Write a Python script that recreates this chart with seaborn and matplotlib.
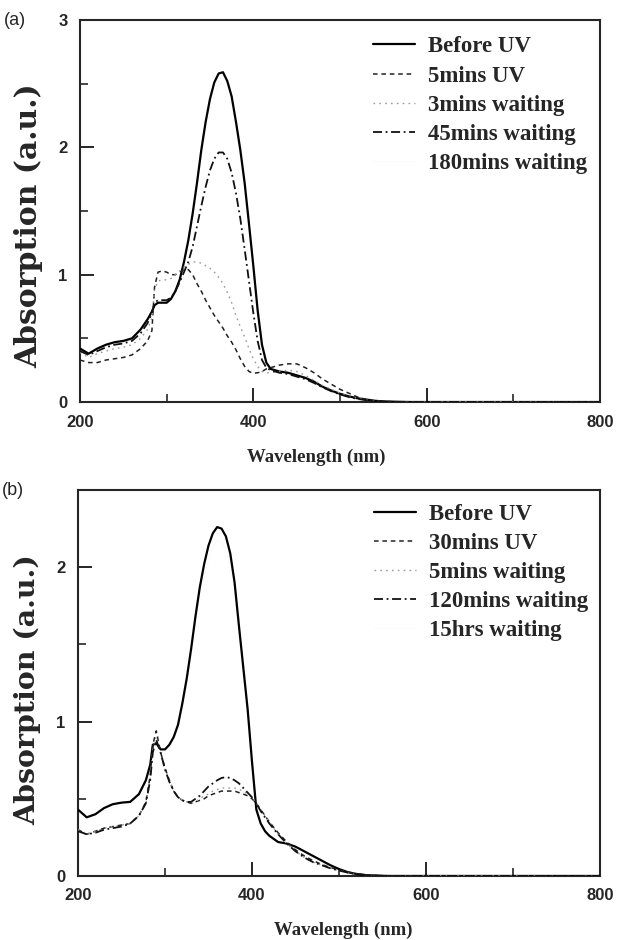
import matplotlib
matplotlib.use('Agg')
import matplotlib.pyplot as plt
from matplotlib.ticker import MultipleLocator
import seaborn as sns

# Wavelength grid (nm), shared by both panels
wavelength = [200, 210, 220, 230, 240, 250, 260, 270, 278, 283, 286, 290, 295, 300,
              305, 310, 315, 320, 325, 330, 335, 340, 345, 350, 355, 360, 365, 370,
              375, 380, 385, 390, 395, 400, 405, 410, 415, 420, 430, 440, 450, 460,
              470, 480, 490, 500, 510, 520, 530, 540, 550, 560, 580, 600, 650, 700,
              750, 800]

# Panel (a)
a_before_uv = [0.42, 0.38, 0.42, 0.45, 0.47, 0.48, 0.50, 0.57, 0.65, 0.71, 0.76, 0.78, 0.78, 0.78,
               0.81, 0.87, 0.96, 1.10, 1.27, 1.48, 1.72, 1.98, 2.20, 2.38, 2.51, 2.58, 2.59, 2.52,
               2.40, 2.20, 1.98, 1.72, 1.40, 1.07, 0.72, 0.45, 0.31, 0.26, 0.24, 0.23, 0.21, 0.19,
               0.16, 0.12, 0.09, 0.065, 0.045, 0.03, 0.02, 0.01, 0.005, 0.003, 0, 0, 0, 0, 0, 0]
a_5min_uv = [0.33, 0.31, 0.31, 0.33, 0.34, 0.35, 0.37, 0.42, 0.48, 0.56, 0.90, 1.02, 1.03, 1.02,
             1.00, 1.00, 1.02, 1.04, 1.04, 1.00, 0.93, 0.87, 0.80, 0.74, 0.68, 0.63, 0.58, 0.52,
             0.47, 0.41, 0.34, 0.28, 0.24, 0.225, 0.23, 0.24, 0.26, 0.27, 0.29, 0.30, 0.30, 0.27,
             0.23, 0.18, 0.14, 0.10, 0.07, 0.04, 0.02, 0.01, 0.005, 0.003, 0, 0, 0, 0, 0, 0]
a_3min_wait = [0.39, 0.35, 0.38, 0.40, 0.42, 0.43, 0.45, 0.50, 0.57, 0.66, 0.88, 0.95, 0.96, 0.96,
               0.97, 1.00, 1.03, 1.06, 1.08, 1.10, 1.10, 1.09, 1.07, 1.05, 1.02, 0.98, 0.93, 0.86,
               0.78, 0.68, 0.59, 0.51, 0.42, 0.34, 0.28, 0.24, 0.23, 0.23, 0.24, 0.25, 0.24, 0.21,
               0.17, 0.13, 0.10, 0.07, 0.045, 0.03, 0.02, 0.01, 0.004, 0, 0, 0, 0, 0, 0, 0]
a_45min_wait = [0.40, 0.37, 0.40, 0.43, 0.45, 0.46, 0.48, 0.54, 0.62, 0.70, 0.78, 0.80, 0.80, 0.80,
                0.82, 0.87, 0.94, 1.02, 1.10, 1.22, 1.38, 1.54, 1.69, 1.82, 1.91, 1.96, 1.96, 1.91,
                1.80, 1.64, 1.44, 1.20, 0.95, 0.70, 0.48, 0.33, 0.27, 0.25, 0.23, 0.22, 0.20, 0.18,
                0.15, 0.115, 0.085, 0.06, 0.04, 0.025, 0.015, 0.008, 0.004, 0, 0, 0, 0, 0, 0, 0]
a_180min_wait = [0.41, 0.37, 0.41, 0.44, 0.46, 0.47, 0.49, 0.56, 0.64, 0.70, 0.75, 0.77, 0.77, 0.77,
                 0.80, 0.86, 0.95, 1.08, 1.24, 1.44, 1.67, 1.92, 2.13, 2.30, 2.42, 2.49, 2.50, 2.44,
                 2.32, 2.13, 1.92, 1.67, 1.36, 1.04, 0.70, 0.44, 0.31, 0.26, 0.24, 0.23, 0.21, 0.19,
                 0.16, 0.12, 0.09, 0.065, 0.045, 0.03, 0.02, 0.01, 0.005, 0.003, 0, 0, 0, 0, 0, 0]

# Panel (b)
b_before_uv = [0.43, 0.38, 0.40, 0.44, 0.465, 0.475, 0.48, 0.53, 0.62, 0.72, 0.85, 0.86, 0.82, 0.82,
               0.85, 0.90, 0.98, 1.12, 1.28, 1.47, 1.68, 1.87, 2.02, 2.14, 2.22, 2.26, 2.25, 2.20,
               2.09, 1.90, 1.62, 1.35, 1.08, 0.74, 0.43, 0.34, 0.29, 0.26, 0.22, 0.21, 0.19, 0.16,
               0.13, 0.10, 0.07, 0.045, 0.025, 0.013, 0.006, 0.003, 0.001, 0, 0, 0, 0, 0, 0, 0]
b_30min_uv = [0.30, 0.27, 0.29, 0.31, 0.32, 0.33, 0.34, 0.39, 0.48, 0.65, 0.85, 0.94, 0.80, 0.70,
              0.62, 0.55, 0.51, 0.49, 0.48, 0.47, 0.48, 0.49, 0.50, 0.52, 0.53, 0.54, 0.55, 0.55,
              0.55, 0.55, 0.54, 0.53, 0.52, 0.50, 0.47, 0.43, 0.39, 0.35, 0.28, 0.22, 0.17, 0.13,
              0.10, 0.075, 0.055, 0.04, 0.025, 0.015, 0.008, 0.004, 0.001, 0, 0, 0, 0, 0, 0, 0]
b_5min_wait = [0.30, 0.27, 0.29, 0.31, 0.32, 0.33, 0.34, 0.39, 0.47, 0.63, 0.82, 0.90, 0.79, 0.69,
               0.61, 0.55, 0.51, 0.49, 0.48, 0.47, 0.48, 0.50, 0.52, 0.53, 0.55, 0.56, 0.57, 0.57,
               0.57, 0.57, 0.56, 0.55, 0.53, 0.51, 0.47, 0.43, 0.39, 0.35, 0.27, 0.21, 0.16, 0.12,
               0.09, 0.07, 0.05, 0.035, 0.022, 0.013, 0.007, 0.003, 0.001, 0, 0, 0, 0, 0, 0, 0]
b_120min_wait = [0.29, 0.27, 0.28, 0.30, 0.31, 0.32, 0.34, 0.39, 0.47, 0.62, 0.80, 0.88, 0.80, 0.69,
                 0.61, 0.55, 0.51, 0.49, 0.48, 0.48, 0.50, 0.52, 0.55, 0.58, 0.60, 0.62, 0.635, 0.64,
                 0.635, 0.62, 0.60, 0.57, 0.54, 0.51, 0.47, 0.42, 0.38, 0.34, 0.27, 0.21, 0.16, 0.12,
                 0.09, 0.07, 0.05, 0.035, 0.022, 0.013, 0.007, 0.003, 0.001, 0, 0, 0, 0, 0, 0, 0]
b_15hr_wait = [0.40, 0.36, 0.38, 0.42, 0.44, 0.45, 0.46, 0.51, 0.60, 0.70, 0.83, 0.84, 0.80, 0.80,
               0.83, 0.88, 0.96, 1.09, 1.24, 1.42, 1.62, 1.80, 1.94, 2.05, 2.13, 2.17, 2.16, 2.11,
               2.01, 1.83, 1.56, 1.30, 1.04, 0.72, 0.43, 0.34, 0.29, 0.26, 0.22, 0.21, 0.19, 0.16,
               0.13, 0.10, 0.07, 0.045, 0.025, 0.013, 0.006, 0.003, 0.001, 0, 0, 0, 0, 0, 0, 0]

labels_a = ['Before UV', '5mins UV', '3mins waiting', '45mins waiting', '180mins waiting']
labels_b = ['Before UV', '30mins UV', '5mins waiting', '120mins waiting', '15hrs waiting']

# estilos de linea: (color, patron, grosor)
estilos = [
    ('black', '-', 1.6),
    ('#222222', (0, (3, 2.5)), 1.1),
    ('#9a9a9a', (0, (1.2, 3)), 1.0),
    ('#111111', (0, (5, 2, 1, 2)), 1.3),
    ('#fbfbfb', '-', 0.8),
]

sns.set_style('ticks')
plt.rcParams['font.family'] = ['Liberation Sans', 'DejaVu Sans']


def dibujar_panel(ax, series, labels, ymax, letra, leg_anchor, ylab_size, ylab_y, xlab_pos):
    # la ultima serie (casi invisible) va primero, por debajo
    for i in [4, 0, 1, 2, 3]:
        color, ls, lw = estilos[i]
        sns.lineplot(x=wavelength, y=series[i], ax=ax, color=color, linestyle=ls,
                     linewidth=lw, label=labels[i], zorder=1 if i == 4 else 3)
    ax.set_xlim(200, 800)
    ax.set_ylim(0, ymax)
    ax.xaxis.set_major_locator(MultipleLocator(200))
    ax.xaxis.set_minor_locator(MultipleLocator(100))
    ax.yaxis.set_major_locator(MultipleLocator(1))
    ax.yaxis.set_minor_locator(MultipleLocator(0.5))
    ax.tick_params(which='major', direction='in', length=10, width=1.4, pad=9,
                   labelsize=12)
    ax.tick_params(which='minor', direction='in', length=5.5, width=1.2)
    for lab in ax.get_xticklabels() + ax.get_yticklabels():
        lab.set_fontweight('bold')
    for sp in ax.spines.values():
        sp.set_linewidth(1.5)
        sp.set_visible(True)

    ax.set_xlabel('Wavelength (nm)', family='Liberation Serif', fontweight='bold', fontsize=13.5)
    ax.xaxis.set_label_coords(xlab_pos[0], xlab_pos[1])
    ax.set_ylabel('Absorption (a.u.)', family='DejaVu Serif', fontweight='bold', fontsize=ylab_size)
    ax.yaxis.set_label_coords(-0.07, ylab_y)

    handles, labs = ax.get_legend_handles_labels()
    mapa = dict(zip(labs, handles))
    ax.legend([mapa[l] for l in labels], labels, loc='upper left', bbox_to_anchor=leg_anchor,
              frameon=False, borderpad=0, borderaxespad=0, handlelength=1.85,
              handletextpad=0.55, labelspacing=0.35,
              prop={'family': 'Liberation Serif', 'weight': 'bold', 'size': 16.5})
    ax.text(-0.125, 1.0, letra, transform=ax.transAxes, fontsize=13,
            ha='center', va='center', family='Liberation Sans')


fig = plt.figure(figsize=(6.19, 9.40), dpi=100)
ax_a = fig.add_axes([0.1292, 0.5723, 0.8401, 0.4064])
ax_b = fig.add_axes([0.1260, 0.0681, 0.8433, 0.4106])

dibujar_panel(ax_a, [a_before_uv, a_5min_uv, a_3min_wait, a_45min_wait, a_180min_wait],
              labels_a, 3, '(a)', (0.5635, 0.957), 21.5, 0.463, (0.454, -0.122))
dibujar_panel(ax_b, [b_before_uv, b_30min_uv, b_5min_wait, b_120min_wait, b_15hr_wait],
              labels_b, 2.5, '(b)', (0.5665, 0.964), 20.5, 0.482, (0.508, -0.119))

fig.savefig('out.png', dpi=100)
